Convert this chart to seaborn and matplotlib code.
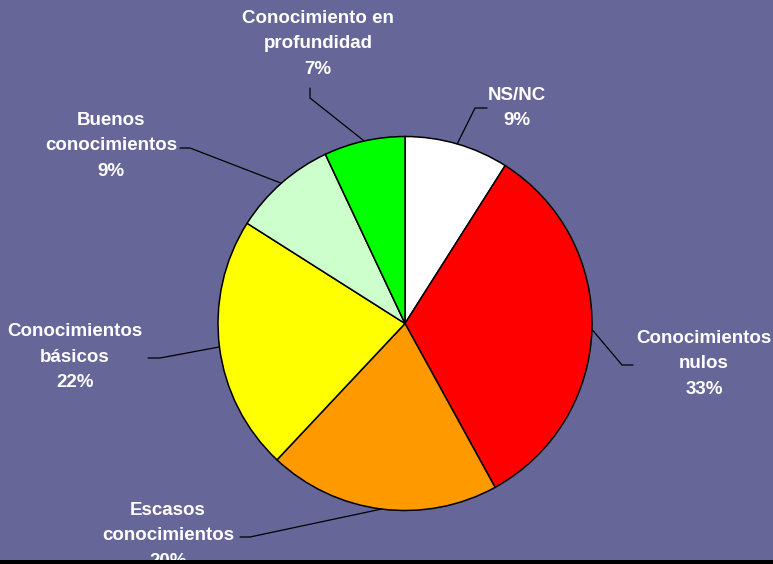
import numpy as np
import matplotlib
matplotlib.use("Agg")
import matplotlib.pyplot as plt
import seaborn as sns
from matplotlib.patches import Rectangle

categories = ["NS/NC", "Conocimientos\nnulos", "Escasos\nconocimientos",
              "Conocimientos\nbásicos", "Buenos\nconocimientos",
              "Conocimiento en\nprofundidad"]
values = [9, 33, 20, 22, 9, 7]
colors = ["#FFFFFF", "#FF0000", "#FF9900", "#FFFF00", "#CCFFCC", "#00FF00"]

# label layout (pixel coordinates, y up) and leader elbows/ends
label_pos = [(517, 456), (704, 200), (168, 28), (75, 207), (111, 418), (318, 520)]
elbows = [(475, 456), (622, 199), (250, 27), (160, 206), (190, 416), (310, 466)]
ends = [(487, 456), (633, 199), (240, 27), (148, 206), (180, 416), (310, 476)]

sns.set_style("white")
plt.rcParams['font.family'] = ['Liberation Sans', 'DejaVu Sans']

W, H = 773, 564
bg = "#666699"
fig = plt.figure(figsize=(W / 100, H / 100), dpi=100, facecolor=bg)
ax = fig.add_axes([0, 0, 1, 1])
ax.set_facecolor(bg)

cx, cy, r = 405, 240.5, 187
wedges, _ = ax.pie(values, colors=colors, startangle=90, counterclock=False,
                   center=(cx, cy), radius=r, frame=True,
                   wedgeprops=dict(edgecolor="black", linewidth=1.1))
ax.set_xlim(0, W)
ax.set_ylim(0, H)
ax.set_aspect('equal')
ax.axis('off')

total = sum(values)
for w, cat, v, lp, el, en in zip(wedges, categories, values, label_pos, elbows, ends):
    mid = np.deg2rad((w.theta1 + w.theta2) / 2)
    ex, ey = cx + r * np.cos(mid), cy + r * np.sin(mid)
    ax.plot([ex, el[0], en[0]], [ey, el[1], en[1]], color="black", lw=0.9, zorder=3)
    ax.text(lp[0], lp[1], f"{cat}\n{round(v / total * 100)}%", ha="center", va="center",
            color="white", fontsize=13.5, fontweight="bold", linespacing=1.66, zorder=4)

fig.patches.append(Rectangle((0, 0), 1, 4.5 / H, transform=fig.transFigure,
                             facecolor="black", edgecolor="none", zorder=10))
fig.savefig("out.png", dpi=100, facecolor=bg)
